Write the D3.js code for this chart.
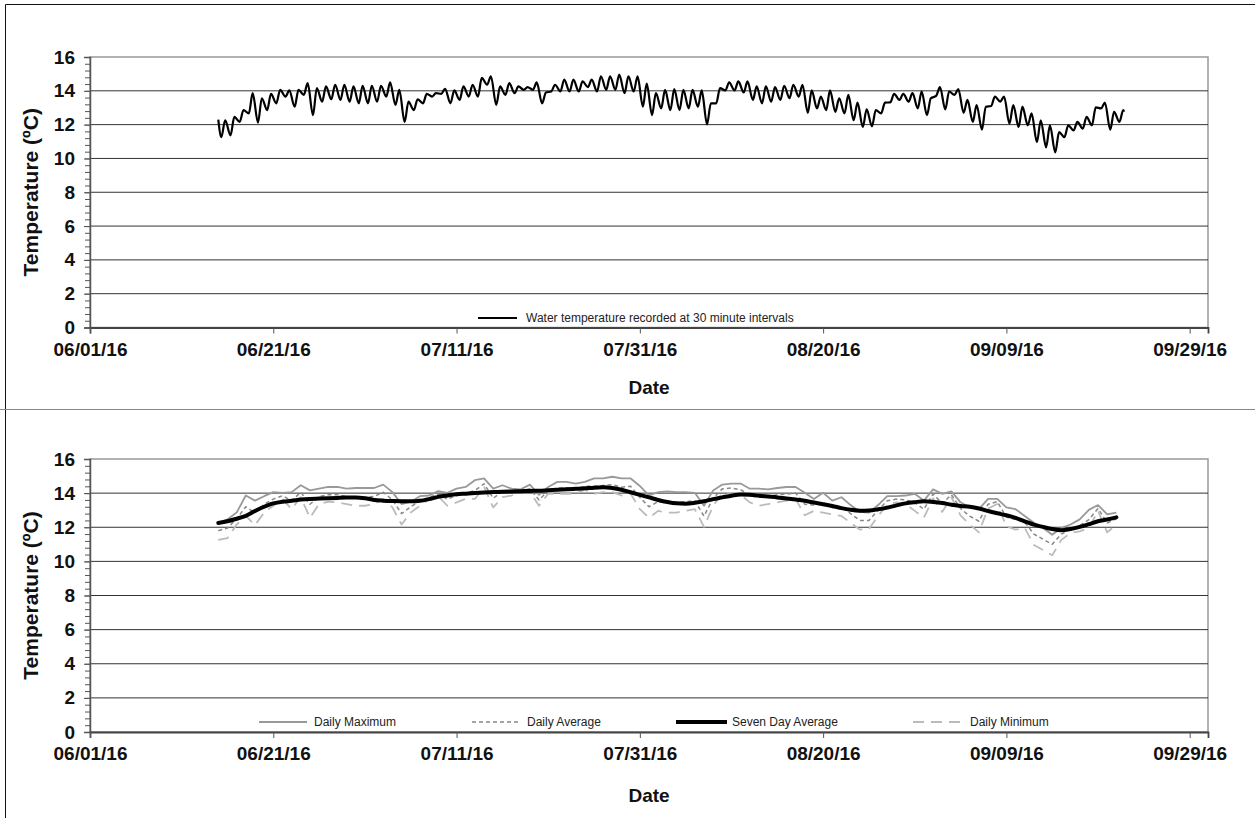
<!DOCTYPE html>
<html><head><meta charset="utf-8">
<script src="https://cdn.jsdelivr.net/npm/d3@7"></script>
<style>
body{margin:0;background:#fff}
svg{display:block}
text{font-family:"Liberation Sans",Arial,Helvetica,sans-serif}
</style>
</head><body>
<svg id="c" width="1255" height="818"></svg>
<script>
// ---------------- DATA ----------------
const firstDay = "06/15/16";
const dailyMax = [12.26,12.46,12.86,13.86,13.56,13.82,14.06,14.02,14.06,14.46,
  14.16,14.26,14.36,14.36,14.26,14.3,14.3,14.3,14.5,14.06,
  13.36,13.5,13.82,13.86,14.12,14.02,14.26,14.36,14.76,14.86,
  14.26,14.46,14.26,14.22,14.5,13.9,14.36,14.66,14.66,14.56,
  14.66,14.86,14.86,14.96,14.86,14.86,14.42,13.86,14.06,14.1,
  14.06,14.06,14.02,13.26,14.16,14.5,14.56,14.56,14.26,14.26,
  14.22,14.3,14.36,14.36,14.02,13.66,14.02,13.56,13.76,13.3,
  12.9,12.86,13.3,13.82,13.82,13.86,13.96,13.56,14.22,13.96,
  14.1,13.46,13.16,13.06,13.66,13.66,13.16,13.06,12.66,12.26,
  11.96,11.56,11.96,12.16,12.46,13.02,13.3,12.76,12.86];
const dailyMin = [11.26,11.36,12.16,12.66,12.12,12.86,13.26,13.66,13.06,13.76,
  12.56,13.36,13.5,13.46,13.36,13.26,13.26,13.36,13.66,13.16,
  12.16,12.86,13.26,13.66,13.82,13.26,13.46,13.66,13.66,14.36,
  13.16,13.76,13.86,14.06,14.06,13.26,13.96,13.96,13.96,13.96,
  14.22,13.96,14.06,14.06,13.86,13.96,13.06,12.56,12.96,12.86,
  12.86,12.96,13.06,12.02,13.26,14.02,14.02,13.9,13.46,13.26,
  13.36,13.46,13.56,13.66,12.7,12.96,12.86,12.76,12.66,12.26,
  11.86,11.9,12.66,13.32,13.46,13.36,12.96,12.56,13.7,12.9,
  13.76,12.7,12.16,11.7,13.1,13.36,12.06,11.86,11.96,10.96,
  10.66,10.36,11.26,11.66,11.76,11.96,12.96,11.7,12.16];
const dailyAvg = [11.8,11.95,12.5,13.2,12.85,13.35,13.65,13.85,13.55,14.05,
  13.35,13.8,13.9,13.9,13.8,13.75,13.75,13.8,14.05,13.6,
  12.8,13.2,13.55,13.75,13.95,13.65,13.85,14.0,14.15,14.55,
  13.7,14.1,14.05,14.15,14.25,13.6,14.15,14.3,14.3,14.25,
  14.4,14.4,14.45,14.5,14.35,14.4,13.75,13.2,13.5,13.45,
  13.45,13.5,13.55,12.65,13.7,14.25,14.3,14.2,13.85,13.75,
  13.8,13.9,13.95,14.0,13.35,13.3,13.45,13.15,13.2,12.8,
  12.4,12.4,13.0,13.55,13.65,13.6,13.45,13.05,13.95,13.4,
  13.9,13.1,12.65,12.35,13.35,13.5,12.6,12.45,12.3,11.6,
  11.3,11.0,11.6,11.9,12.1,12.45,13.1,12.25,12.5];
const sevenDayAvg = [12.25,12.35,12.5,12.67,12.95,13.2,13.4,13.5,13.55,13.62,
  13.66,13.68,13.7,13.72,13.74,13.75,13.7,13.6,13.56,13.54,
  13.53,13.52,13.55,13.65,13.78,13.86,13.93,13.97,14.01,14.04,
  14.06,14.08,14.1,14.11,14.13,14.14,14.17,14.2,14.22,14.25,
  14.28,14.32,14.34,14.3,14.2,14.05,13.9,13.75,13.6,13.48,
  13.4,13.38,13.43,13.52,13.65,13.75,13.85,13.92,13.9,13.85,
  13.8,13.75,13.68,13.62,13.55,13.45,13.35,13.25,13.12,13.02,
  12.97,12.98,13.05,13.15,13.28,13.4,13.47,13.52,13.48,13.42,
  13.32,13.25,13.2,13.1,12.95,12.82,12.7,12.55,12.35,12.15,
  12.02,11.9,11.83,11.9,12.02,12.18,12.35,12.45,12.58];
const firstReading = 12.3, lastReading = 12.76;
const xTickLabels = ["06/01/16","06/21/16","07/11/16","07/31/16","08/20/16","09/09/16","09/29/16"];
const xDomainLabels = ["06/01/16","10/01/16"];
const yTicks = [0,2,4,6,8,10,12,14,16];
const topLegend = "Water temperature recorded at 30 minute intervals";
const bottomLegend = ["Daily Maximum","Daily Average","Seven Day Average","Daily Minimum"];

// ---------------- BUILD ----------------
const parse = d3.timeParse("%m/%d/%y");
const fmt = d3.timeFormat("%m/%d/%y");
const d0 = parse(firstDay);
const dayDate = i => d3.timeDay.offset(d0, i);

// 30-minute record: daily trough (~08:00) and peak (~18:00) vertices
const readings = [{t: d0, v: firstReading}];
dailyMin.forEach((mn, i) => {
  readings.push({t: d3.timeHour.offset(dayDate(i), 8), v: mn});
  readings.push({t: d3.timeHour.offset(dayDate(i), 18), v: dailyMax[i]});
});
readings.push({t: d3.timeHour.offset(dayDate(dailyMin.length - 1), 20), v: lastReading});

const series = arr => arr.map((v, i) => ({t: dayDate(i), v}));

const svg = d3.select("#c");

// outer frames
svg.append("path").attr("d","M5.5,410 V4.5 H1255").attr("fill","none").attr("stroke","#111").attr("stroke-width",1);
svg.append("line").attr("x1",0).attr("x2",1255).attr("y1",409.5).attr("y2",409.5).attr("stroke","#888").attr("stroke-width",1.2);
svg.append("line").attr("x1",5.5).attr("x2",5.5).attr("y1",410).attr("y2",818).attr("stroke","#111").attr("stroke-width",1);

const X0 = 90, X1 = 1208;
const x = d3.scaleTime().domain(xDomainLabels.map(parse)).range([X0, X1]);

function panel(top, bottom, dateY) {
  const y = d3.scaleLinear().domain([0, 16]).range([bottom, top]);
  const g = svg.append("g");
  g.append("rect").attr("x", X0).attr("y", top).attr("width", X1 - X0).attr("height", bottom - top)
    .attr("fill", "none").attr("stroke", "#999").attr("stroke-width", 1.5);
  g.selectAll(".grid").data(yTicks.filter(v => v > 0 && v < 16)).join("line")
    .attr("x1", X0).attr("x2", X1).attr("y1", d => y(d)).attr("y2", d => y(d))
    .attr("stroke", "#333").attr("stroke-width", 1);
  const minor = g.append("g").attr("transform", `translate(${X0},0)`)
    .call(d3.axisLeft(y).tickValues(d3.range(0, 16.001, 0.4)).tickSize(5).tickFormat(""));
  minor.select(".domain").remove();
  minor.selectAll("line").attr("stroke", "#555");
  const ya = g.append("g").attr("transform", `translate(${X0},0)`)
    .call(d3.axisLeft(y).tickValues(yTicks).tickSize(6).tickPadding(9).tickFormat(d3.format("d")));
  ya.select(".domain").attr("stroke", "#555").attr("stroke-width", 1.5);
  ya.selectAll("line").attr("stroke", "#555");
  ya.selectAll("text").attr("font-size", 19).attr("font-weight", "bold").attr("fill", "#111")
    .attr("font-family", '"Liberation Sans",Arial,sans-serif');
  const xa = g.append("g").attr("transform", `translate(0,${bottom})`)
    .call(d3.axisBottom(x).tickValues(xTickLabels.map(parse)).tickSize(6).tickPadding(9).tickFormat(fmt));
  xa.select(".domain").attr("stroke", "#444").attr("stroke-width", 1.8);
  xa.selectAll("line").attr("stroke", "#555");
  xa.selectAll("text").attr("font-size", 19).attr("font-weight", "bold").attr("fill", "#111")
    .attr("font-family", '"Liberation Sans",Arial,sans-serif');
  g.append("text").attr("x", (X0 + X1) / 2).attr("y", dateY).attr("text-anchor", "middle")
    .attr("font-size", 19).attr("font-weight", "bold").attr("fill", "#111").text("Date");
  g.append("text").attr("transform", `translate(38,${(top + bottom) / 2}) rotate(-90)`)
    .attr("text-anchor", "middle").attr("font-size", 21).attr("font-weight", "bold").attr("fill", "#111")
    .text("Temperature (ºC)");
  return {g, y};
}

// ---- top panel ----
const P1 = panel(57, 327.5, 394);
const line1 = d3.line().x(d => x(d.t)).y(d => P1.y(d.v)).curve(d3.curveMonotoneX);
P1.g.append("path").datum(readings).attr("d", line1).attr("fill", "none")
  .attr("stroke", "#000").attr("stroke-width", 2.2).attr("stroke-linejoin", "round");
P1.g.append("line").attr("x1", 478).attr("x2", 517).attr("y1", 318).attr("y2", 318)
  .attr("stroke", "#000").attr("stroke-width", 2);
P1.g.append("text").attr("x", 526).attr("y", 322).attr("font-size", 12).attr("fill", "#222").text(topLegend);

// ---- bottom panel ----
const P2 = panel(459, 732, 802);
const styles = [
  {data: dailyMax, stroke: "#999", w: 1.8, dash: null},
  {data: dailyAvg, stroke: "#888", w: 1.5, dash: "4,3"},
  {data: sevenDayAvg, stroke: "#000", w: 4, dash: null, curve: d3.curveMonotoneX},
  {data: dailyMin, stroke: "#bbb", w: 1.8, dash: "11,7"}
];
[0, 1, 3, 2].forEach(k => {
  const s = styles[k];
  const ln = d3.line().x(d => x(d.t)).y(d => P2.y(d.v)).curve(s.curve || d3.curveLinear);
  P2.g.append("path").datum(series(s.data)).attr("d", ln).attr("fill", "none")
    .attr("stroke", s.stroke).attr("stroke-width", s.w).attr("stroke-dasharray", s.dash)
    .attr("stroke-linejoin", "round").attr("stroke-linecap", k === 2 ? "round" : "butt");
});
const legX = [[259, 307, 314], [472, 521, 527], [676, 727, 732], [913, 962, 970]];
bottomLegend.forEach((name, k) => {
  const s = styles[k];
  P2.g.append("line").attr("x1", legX[k][0]).attr("x2", legX[k][1]).attr("y1", 722).attr("y2", 722)
    .attr("stroke", s.stroke).attr("stroke-width", s.w).attr("stroke-dasharray", s.dash);
  P2.g.append("text").attr("x", legX[k][2]).attr("y", 726).attr("font-size", 12).attr("fill", "#222").text(name);
});
</script>
</body></html>
